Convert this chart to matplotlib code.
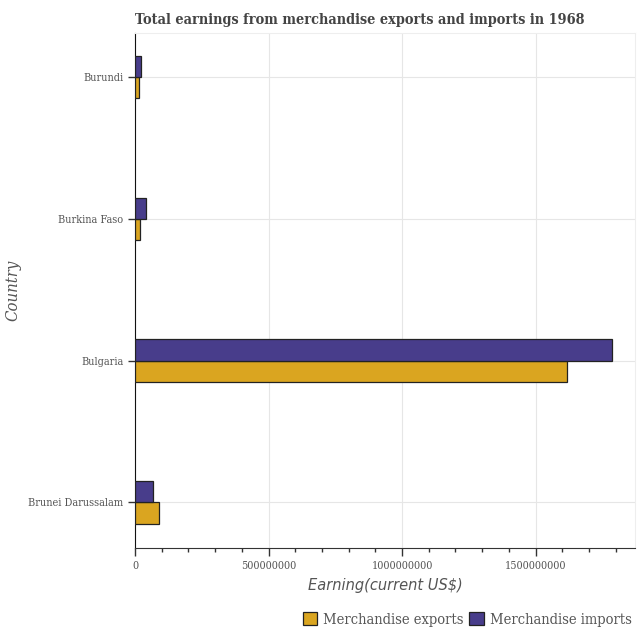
import matplotlib
matplotlib.use('Agg')
import matplotlib.pyplot as plt
import numpy as np
from matplotlib.ticker import MultipleLocator, FormatStrFormatter

countries = ['Brunei Darussalam', 'Bulgaria', 'Burkina Faso', 'Burundi']
exports = [91000000, 1618000000, 20000000, 14000000]
imports = [67000000, 1786000000, 41000000, 22500000]

exp_color = '#DAA520'
imp_color = '#483D8B'
text_color = '#555555'

fig = plt.figure(figsize=(6.4, 6.4), dpi=100)
ax = fig.add_axes([0.211, 0.144, 0.781, 0.804])

y = np.arange(len(countries))
h = 0.15
ax.barh(y - h / 2, exports, height=h, color=exp_color, edgecolor='#222222',
        linewidth=0.9, label='Merchandise exports', zorder=3)
ax.barh(y + h / 2, imports, height=h, color=imp_color, edgecolor='#222222',
        linewidth=0.9, label='Merchandise imports', zorder=3)

ax.set_yticks(y)
ax.set_yticklabels(countries, family='DejaVu Serif', stretch='condensed',
                   fontsize=7.8, color=text_color)
ax.set_ylim(-0.32, 3.31)
ax.set_xlim(0, max(imports) * 1.048)

ax.xaxis.set_major_locator(MultipleLocator(500000000))
ax.xaxis.set_minor_locator(MultipleLocator(100000000))
ax.xaxis.set_major_formatter(FormatStrFormatter('%d'))
for lab in ax.get_xticklabels():
    lab.set_family('DejaVu Serif')
    lab.set_stretch('condensed')
    lab.set_fontsize(7.8)
    lab.set_color(text_color)

ax.tick_params(axis='x', which='major', length=6, width=1, color='#333333')
ax.tick_params(axis='x', which='minor', length=3, width=1, color='#333333')
ax.tick_params(axis='y', length=5, width=1, color='#333333')

ax.grid(True, which='major', color='#e6e6e6', linewidth=0.8, zorder=0)
ax.set_axisbelow(True)
for s in ['top', 'right']:
    ax.spines[s].set_color('#eeeeee')
ax.spines['left'].set_color('#111111')
ax.spines['bottom'].set_color('#333333')

ax.set_xlabel('Earning(current US$)', fontsize=11.7, style='italic',
              family='DejaVu Sans', stretch='condensed', color=text_color,
              labelpad=5)
ax.set_ylabel('Country', fontsize=12, style='italic', family='DejaVu Serif',
              stretch='condensed', color=text_color)
ax.yaxis.set_label_coords(-0.228, 0.5)
ax.set_title('Total earnings from merchandise exports and imports in 1968',
             fontsize=10.4, fontweight='bold', family='DejaVu Serif',
             stretch='condensed', color='#444444', loc='left', pad=7)

leg = ax.legend(loc='upper right', bbox_to_anchor=(1.02, -0.1), ncol=2,
                frameon=False, handlelength=1.0, handleheight=1.0,
                handletextpad=0.4, columnspacing=0.4,
                prop={'family': 'DejaVu Serif', 'stretch': 'condensed',
                      'size': 10.5})
for t in leg.get_texts():
    t.set_color(text_color)

fig.savefig('out.png', dpi=100)
